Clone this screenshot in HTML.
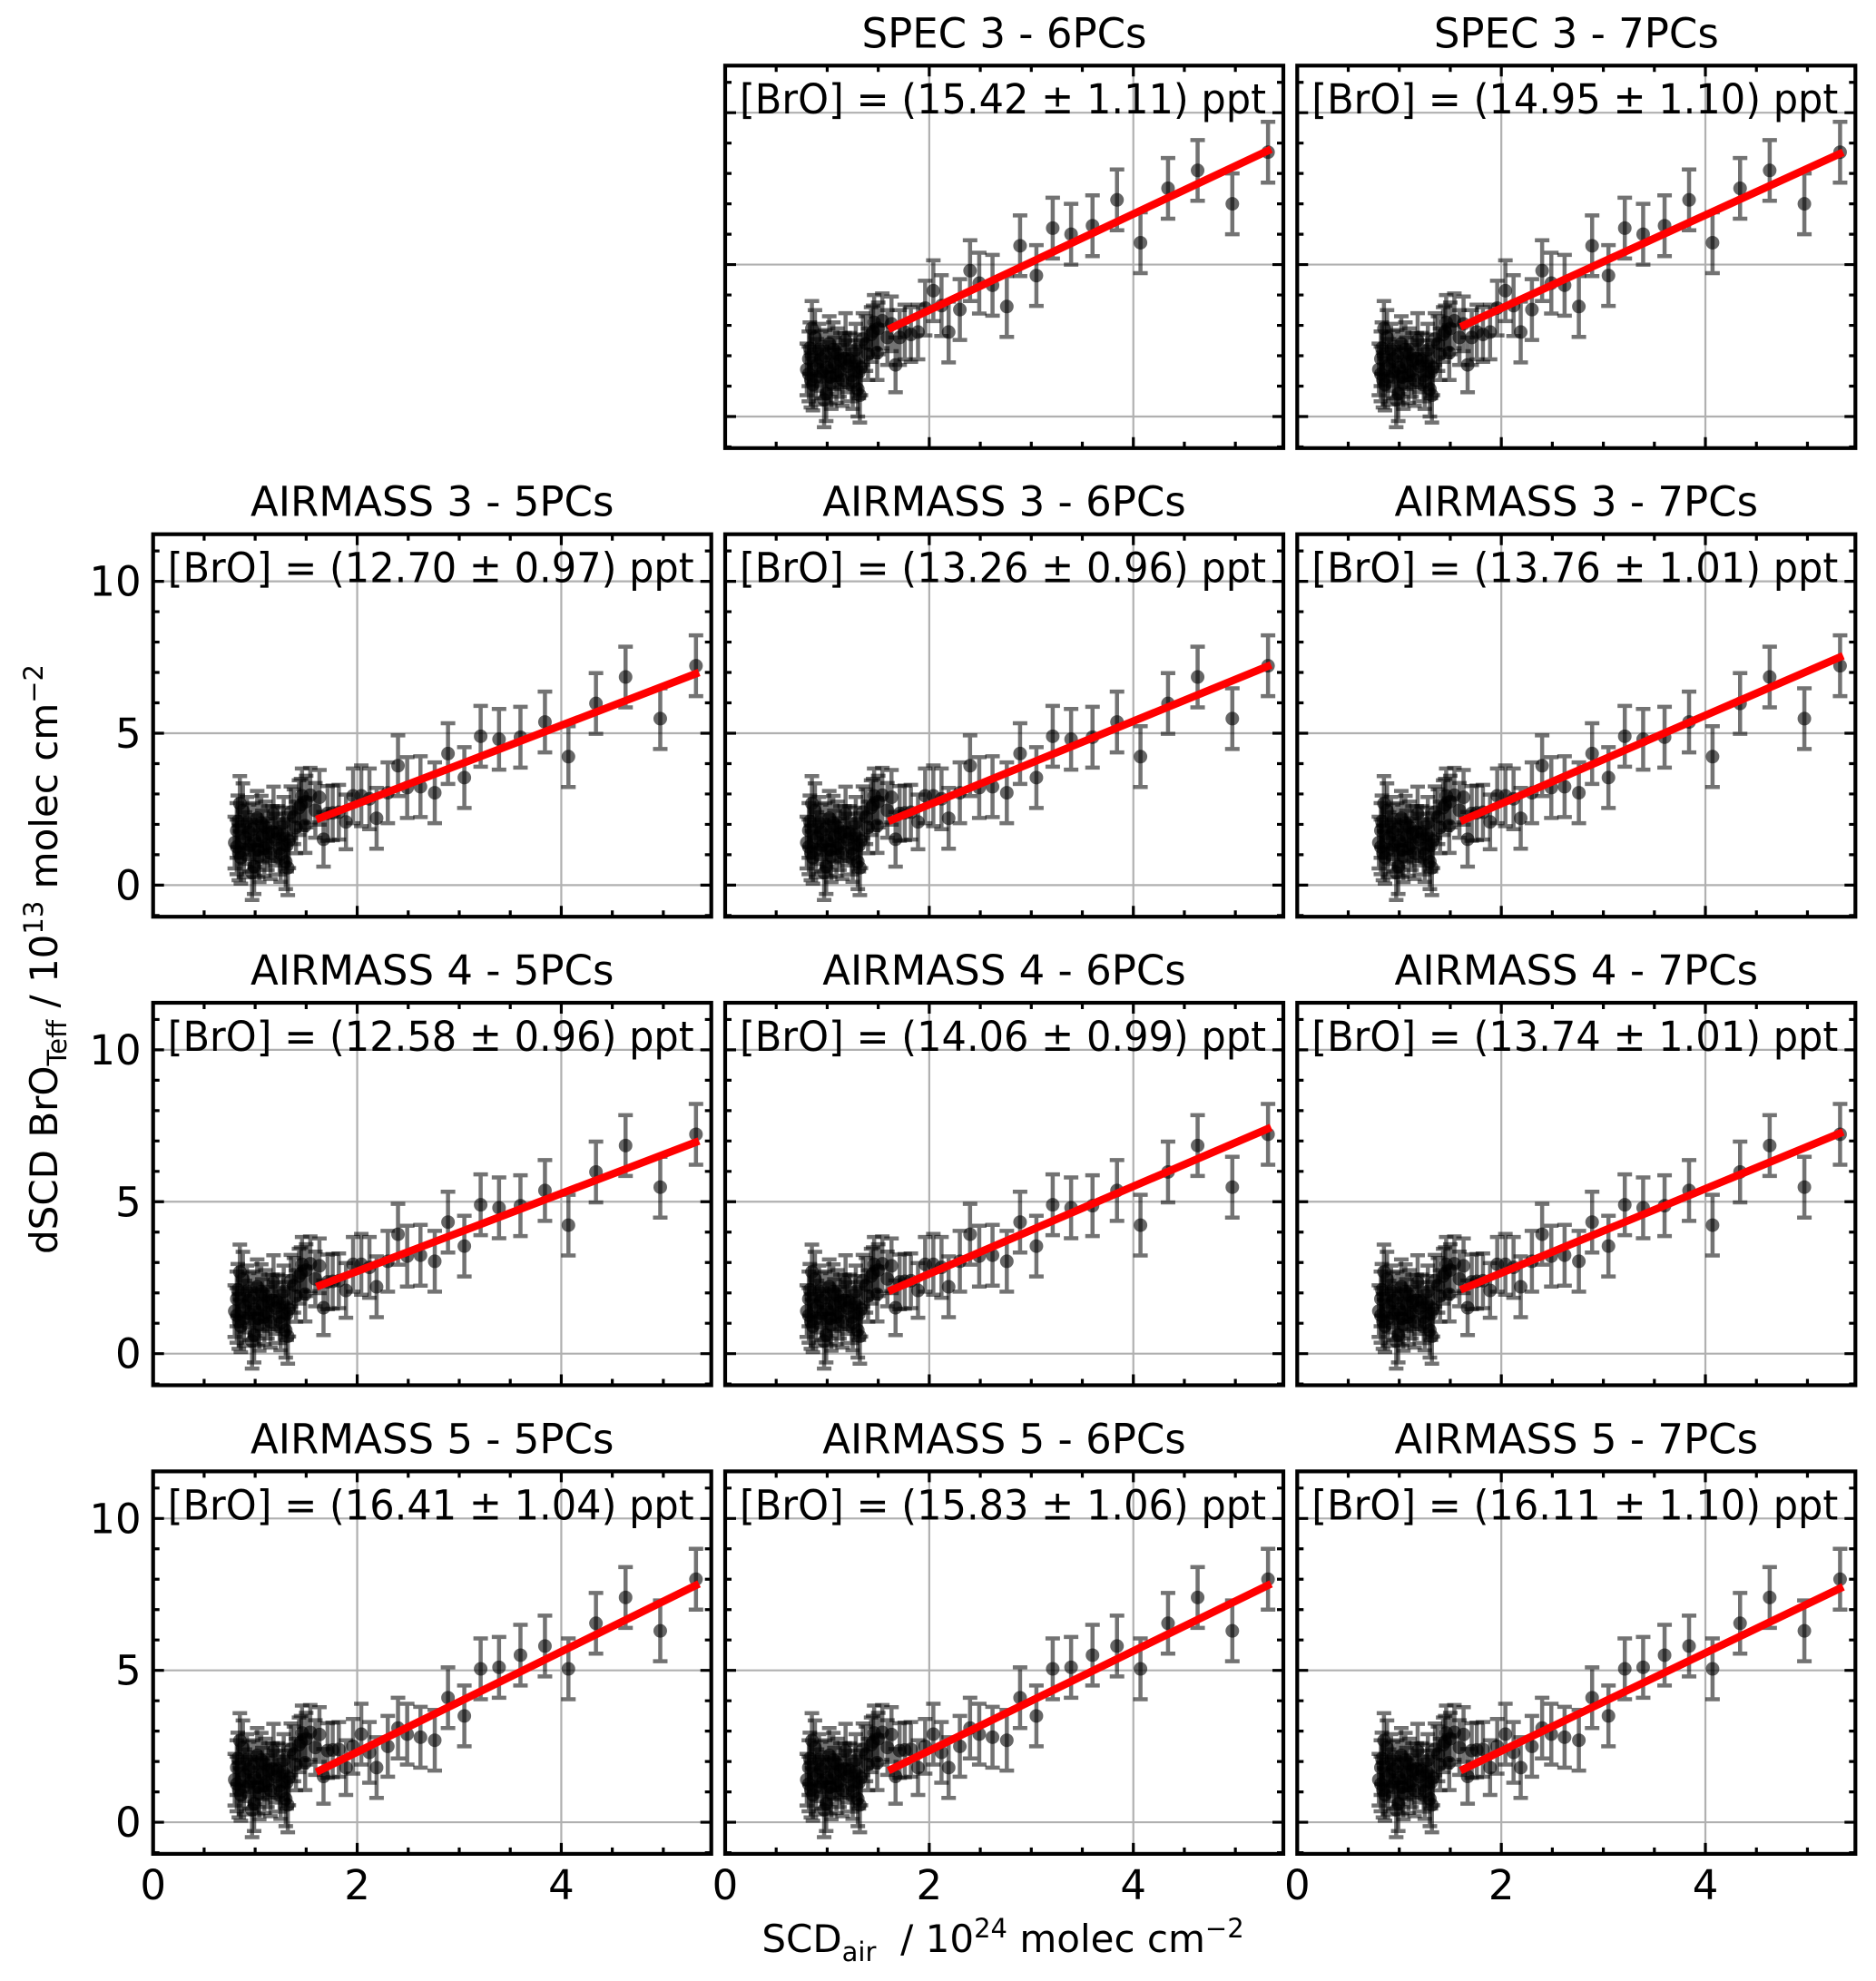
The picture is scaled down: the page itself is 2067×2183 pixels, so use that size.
<!DOCTYPE html>
<html><head><meta charset="utf-8"><style>
html,body{margin:0;padding:0;background:#fff;}
svg{display:block;font-family:"DejaVu Sans","Liberation Sans",sans-serif;}
</style></head><body>
<svg id="chart" xmlns="http://www.w3.org/2000/svg" width="2067" height="2183" viewBox="0 0 2067 2183">
<rect width="2067" height="2183" fill="#fff"/>
<text transform="translate(63,1057) rotate(-90)" text-anchor="middle" font-size="42">dSCD BrO<tspan font-size="29" dy="10">Teff</tspan><tspan dy="-10">  / 10</tspan><tspan font-size="29" dy="-16">13</tspan><tspan dy="16"> molec cm</tspan><tspan font-size="29" dy="-16">−2</tspan></text>
<text x="1105" y="2151" text-anchor="middle" font-size="42">SCD<tspan font-size="29" dy="10">air</tspan><tspan dy="-10" xml:space="preserve">  / 10</tspan><tspan font-size="29" dy="-16">24</tspan><tspan dy="16"> molec cm</tspan><tspan font-size="29" dy="-16">−2</tspan></text>
</svg>
<script>
// ---- data ----
const xs = [0.82,0.82,0.84,0.85,0.88,0.89,0.94,0.97,0.99,1.02,1.03,1.06,1.09,1.13,1.18,1.22,1.25,1.27,1.30,1.32,1.33,1.38,1.43,1.46,1.49,1.54,1.59,1.63,1.67,1.71,1.76,1.82,1.89,1.96,2.04,2.12,2.19,2.30,2.40,2.49,2.62,2.76,2.89,3.05,3.21,3.39,3.60,3.84,4.07,4.34,4.63,4.97,5.32,
 0.80,0.83,0.86,0.90,0.92,0.95,0.98,1.00,1.04,1.07,1.10,1.12,1.15,1.17,1.20,1.24,1.28,1.31,1.35,1.40,1.45,1.50];
const ysAirmass3 = [1.80,1.26,1.06,2.69,2.45,1.16,1.75,0.41,0.61,2.20,1.16,2.04,1.21,1.70,2.34,1.70,1.01,1.65,0.77,0.57,1.46,2.25,2.55,2.94,1.96,2.96,2.46,2.89,1.51,2.36,2.38,2.40,2.08,2.94,2.94,2.84,2.20,3.04,3.93,3.21,3.24,3.04,4.33,3.54,4.90,4.80,4.87,5.37,4.23,5.98,6.85,5.48,7.22,
 1.40,2.10,0.90,1.55,2.05,1.30,1.85,1.45,0.95,1.60,1.90,1.35,1.05,1.75,1.50,1.20,2.05,1.30,2.40,1.90,2.65,2.75];
const ysAirmass5 = [1.80,1.26,1.06,2.69,2.45,1.16,1.75,0.41,0.61,2.20,1.16,2.04,1.21,1.70,2.34,1.70,1.01,1.65,0.77,0.57,1.46,2.25,2.55,2.94,1.96,2.96,2.46,2.89,1.51,2.36,2.38,2.40,1.80,2.50,2.90,2.30,1.80,2.50,3.10,2.90,2.80,2.70,4.10,3.50,5.05,5.10,5.50,5.80,5.05,6.55,7.40,6.30,8.00,
 1.40,2.10,0.90,1.55,2.05,1.30,1.85,1.45,0.95,1.60,1.90,1.35,1.05,1.75,1.50,1.20,2.05,1.30,2.40,1.90,2.65,2.75];
const ysSpec3 = [1.90,1.40,1.20,2.90,2.60,1.30,1.90,0.55,0.75,2.40,1.30,2.20,1.35,1.85,2.50,1.85,1.15,1.80,0.90,0.70,1.60,2.40,2.70,3.10,2.10,3.15,2.60,3.05,1.70,2.60,2.78,2.70,2.78,3.57,4.14,3.65,2.78,3.52,4.80,4.39,4.32,3.62,5.62,4.64,6.20,6.00,6.28,7.13,5.72,7.51,8.10,7.00,8.70,
 1.55,2.25,1.05,1.70,2.20,1.45,2.00,1.60,1.10,1.75,2.05,1.50,1.20,1.90,1.65,1.35,2.20,1.45,2.55,2.05,2.80,2.90];
const errs = [0.9,0.9,0.9,0.9,0.9,0.9,0.9,0.9,0.9,0.9,0.9,0.9,0.9,0.9,0.9,0.9,0.9,0.9,0.9,0.9,0.9,0.9,0.9,0.9,0.9,0.9,0.9,0.9,0.9,0.9,0.9,0.9,0.9,0.9,1.0,1.0,1.0,1.0,1.0,1.0,1.0,1.0,1.0,1.0,1.0,1.0,1.0,1.0,1.0,1.0,1.0,1.0,1.0,
 0.85,0.85,0.85,0.85,0.85,0.85,0.85,0.85,0.85,0.85,0.85,0.85,0.85,0.85,0.85,0.85,0.85,0.85,0.85,0.85,0.85,0.85];
const panelTitles = ["SPEC 3 - 6PCs","SPEC 3 - 7PCs","AIRMASS 3 - 5PCs","AIRMASS 3 - 6PCs","AIRMASS 3 - 7PCs","AIRMASS 4 - 5PCs","AIRMASS 4 - 6PCs","AIRMASS 4 - 7PCs","AIRMASS 5 - 5PCs","AIRMASS 5 - 6PCs","AIRMASS 5 - 7PCs"];
const broValues = ["15.42","14.95","12.70","13.26","13.76","12.58","14.06","13.74","16.41","15.83","16.11"];
const broErrors = ["1.11","1.10","0.97","0.96","1.01","0.96","0.99","1.01","1.04","1.06","1.10"];
const fitX = [1.6, 5.35];
const fitStartY = [2.87,2.95,2.16,2.10,2.10,2.20,2.05,2.10,1.65,1.70,1.70];
const fitEndY = [8.80,8.70,7.00,7.25,7.55,7.00,7.45,7.30,7.85,7.85,7.75];
const panelGroup = ["spec","spec","a3","a3","a3","a3","a3","a3","a5","a5","a5"];
const xTicks = [0,2,4];
const yTicks = [0,5,10];

// ---- layout ----
const NS = "http://www.w3.org/2000/svg";
const svg = document.getElementById('chart');
const colLeft = [168.7, 799, 1429.3];
const rowTop = [72.3, 588.7, 1105, 1621.4];
const W = 615, H = 421.5, XMIN = 0, XMAX = 5.47, YMIN = -1.04, YMAX = 11.55;
const slots = [[0,1],[0,2],[1,0],[1,1],[1,2],[2,0],[2,1],[2,2],[3,0],[3,1],[3,2]];
const groups = {spec: ysSpec3, a3: ysAirmass3, a5: ysAirmass5};

function mk(tag, attrs, parent){
  const e = document.createElementNS(NS, tag);
  for (const k in attrs) e.setAttribute(k, attrs[k]);
  parent.appendChild(e);
  return e;
}

slots.forEach((slot, p) => {
  const r = slot[0], c = slot[1];
  const L = colLeft[c], T = rowTop[r];
  const sx = v => L + (v - XMIN) / (XMAX - XMIN) * W;
  const sy = v => T + H - (v - YMIN) / (YMAX - YMIN) * H;
  const g = mk('g', {}, svg);
  
  
  const clipId = 'clip' + p;
  const cp = mk('clipPath', {id: clipId}, g);
  mk('rect', {x: L, y: T, width: W, height: H}, cp);
  xTicks.forEach(t => { if (t > XMIN) { const gl = mk('line', {x1: sx(t), x2: sx(t), y1: T, y2: T+H, stroke: '#b0b0b0', 'stroke-width': 2.2}, g);
    
     } });
  yTicks.forEach(t => { const gl = mk('line', {x1: L, x2: L+W, y1: sy(t), y2: sy(t), stroke: '#b0b0b0', 'stroke-width': 2.2}, g);
    
     });
  const ann = mk('text', {x: L + 16, y: sy(10) + 1, 'font-size': 45, textLength: 580, lengthAdjust: 'spacingAndGlyphs'}, g);
  ann.textContent = '[BrO] = (' + broValues[p] + ' ± ' + broErrors[p] + ') ppt';
  
  
  const ys = groups[panelGroup[p]];
  const pts = mk('g', {'clip-path': 'url(#' + clipId + ')'}, g);
  
  
  xs.forEach((x, i) => {
    const X = sx(x), Y = sy(ys[i]), e = errs[i];
    const eb = mk('path', {d: 'M' + X + ' ' + sy(ys[i]-e) + 'V' + sy(ys[i]+e) + 'M' + (X-8) + ' ' + sy(ys[i]-e) + 'H' + (X+8) + 'M' + (X-8) + ' ' + sy(ys[i]+e) + 'H' + (X+8), stroke: '#000', 'stroke-opacity': 0.55, 'stroke-width': 4.5, fill: 'none'}, pts);
    
    
    const dot = mk('circle', {cx: X, cy: Y, r: 7.5, fill: '#000', 'fill-opacity': 0.6}, pts);
    
    
  });
  const fl = mk('line', {x1: sx(fitX[0]), y1: sy(fitStartY[p]), x2: sx(fitX[1]), y2: sy(fitEndY[p]), stroke: '#ff0000', 'stroke-width': 8.5}, g);
  
  
  let d = '';
  for (let v = 0.5; v < XMAX; v += 0.5) {
    const len = (Math.abs(v % 2) < 1e-6) ? 12 : 7;
    d += 'M' + sx(v) + ' ' + (T+H) + 'v' + (-len) + 'M' + sx(v) + ' ' + T + 'v' + len;
  }
  for (let v = -1; v <= 11; v += 1) {
    const len = (v % 5 === 0) ? 12 : 7;
    d += 'M' + L + ' ' + sy(v) + 'h' + len + 'M' + (L+W) + ' ' + sy(v) + 'h' + (-len);
  }
  const tk = mk('path', {d: d, stroke: '#000', 'stroke-width': 3.2, fill: 'none'}, g);
  
  
  const fr = mk('rect', {x: L, y: T, width: W, height: H, fill: 'none', stroke: '#000', 'stroke-width': 4.2}, g);
  
  
  const tt = mk('text', {x: L + W/2, y: T - 20, 'text-anchor': 'middle', 'font-size': 45}, g);
  tt.textContent = panelTitles[p];
  
  
  if (c === 0) {
    yTicks.forEach(t => {
      const tl = mk('text', {x: L - 13, y: sy(t) + 16, 'text-anchor': 'end', 'font-size': 45}, g);
      tl.textContent = String(t);
      
      
    });
  }
  if (r === 3) {
    xTicks.forEach(t => {
      const tl = mk('text', {x: sx(t), y: T + H + 50, 'text-anchor': 'middle', 'font-size': 45}, g);
      tl.textContent = String(t);
      
      
    });
  }
});
</script>
</body></html>
